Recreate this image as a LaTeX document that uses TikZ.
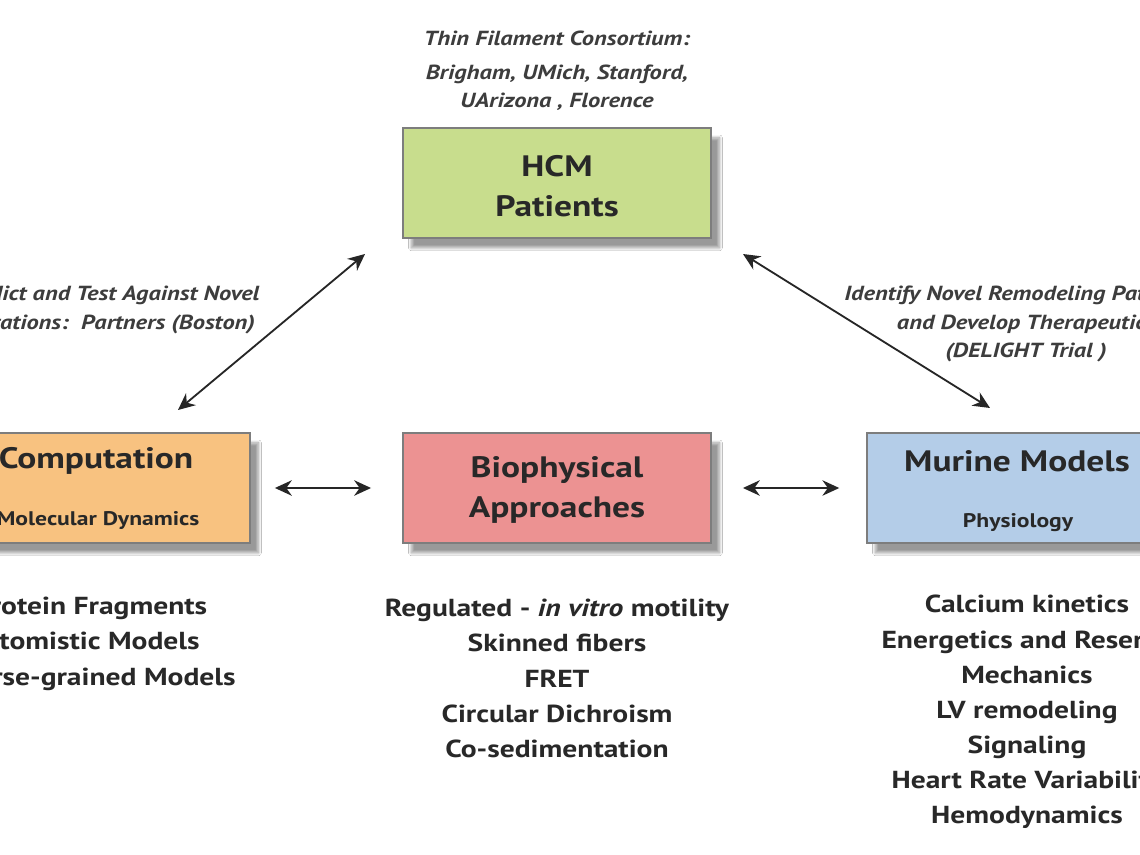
\documentclass[tikz,border=0pt]{standalone}
\usepackage{fontspec}
\setmainfont{PT Sans}[FakeStretch=1.2]
\usetikzlibrary{arrows.meta,shadows.blur}
\definecolor{boxgray}{RGB}{125,125,125}
\definecolor{txt}{RGB}{40,40,40}
\definecolor{hcmgreen}{RGB}{200,221,141}
\definecolor{comporange}{RGB}{248,194,128}
\definecolor{biopink}{RGB}{236,146,146}
\definecolor{murblue}{RGB}{180,205,232}
\tikzset{
  box/.style={draw=boxgray, line width=1.4pt, rectangle, inner sep=0pt,
    minimum width=7.7cm, minimum height=2.75cm,
    blur shadow={shadow xshift=6pt, shadow yshift=-7pt, shadow blur steps=14, shadow opacity=40}},
  ttl/.style={text=txt, font=\bfseries\fontsize{21}{28}\selectfont, align=center, inner sep=0pt},
  sub/.style={text=txt, font=\bfseries\fontsize{14}{17}\selectfont, align=center, inner sep=0pt},
  lst/.style={text=txt, font=\bfseries\fontsize{17.5}{25}\selectfont, align=center, inner sep=0pt, anchor=north},
  lbl/.style={text=txt!90, font=\bfseries\itshape\fontsize{14.5}{20}\selectfont, align=center, inner sep=0pt},
  dbl/.style={{Stealth[length=12pt,width=11pt]}-{Stealth[length=12pt,width=11pt]}, line width=1.3pt, draw=black!85}
}
\begin{document}
\begin{tikzpicture}[x=0.025cm, y=-0.025cm]
\useasboundingbox (0,0) rectangle (1140,855);
\clip (0,0) rectangle (1140,855);
\fill[white] (0,0) rectangle (1140,855);

% boxes
\node[box, fill=hcmgreen] (hcm) at (557,183) {};
\node[box, fill=comporange] (comp) at (96,488) {};
\node[box, fill=biopink] (bio) at (557,488) {};
\node[box, fill=murblue] (mur) at (1021,488) {};

% box texts
\node[ttl] (hcmt) at (557,186) {HCM\\Patients};
\node[ttl] (compt) at (96,461) {Computation};
\node[sub] (comps) at (98,521) {Molecular Dynamics};
\node[ttl] (biot) at (557,490) {Biophysical\\Approaches};
\node[ttl] (murt) at (1017,461) {Murine Models};
\node[sub] (murs) at (1018,523) {Physiology};

% top label
\node[lbl] (top1) at (557,38) {Thin Filament Consortium:};
\node[lbl] (top2) at (557,88) {Brigham, UMich, Stanford,\\UArizona , Florence};

% side labels
\node[lbl] (left) at (108,310) {Predict and Test Against Novel\\Mutations:\ \ Partners (Boston)};
\node[lbl] (right) at (1026,324) {Identify Novel Remodeling Pathways\\and Develop Therapeutics\\(DELIGHT Trial )};

% lists
\node[lst] (compl) at (91,597) {Protein Fragments\\Atomistic Models\\Coarse-grained Models};
\node[lst] (biol) at (557,599) {Regulated - \textit{in vitro} motility\\Skinned fibers\\FRET\\Circular Dichroism\\Co-sedimentation};
\node[lst] (murl) at (1027,595) {Calcium kinetics\\Energetics and Reserve\\Mechanics\\LV remodeling\\Signaling\\Heart Rate Variability\\Hemodynamics};

% arrows
\coordinate (a1) at (365,254);
\coordinate (a2) at (178,410);
\coordinate (b1) at (743,254);
\coordinate (b2) at (990,408);
\draw[dbl] (a1) -- (a2);
\draw[dbl] (b1) -- (b2);
\draw[dbl, shorten <=17pt, shorten >=22pt] (comp.east) -- (bio.west);
\draw[dbl, shorten <=22pt, shorten >=19pt] (bio.east) -- (mur.west);
\end{tikzpicture}
\end{document}
